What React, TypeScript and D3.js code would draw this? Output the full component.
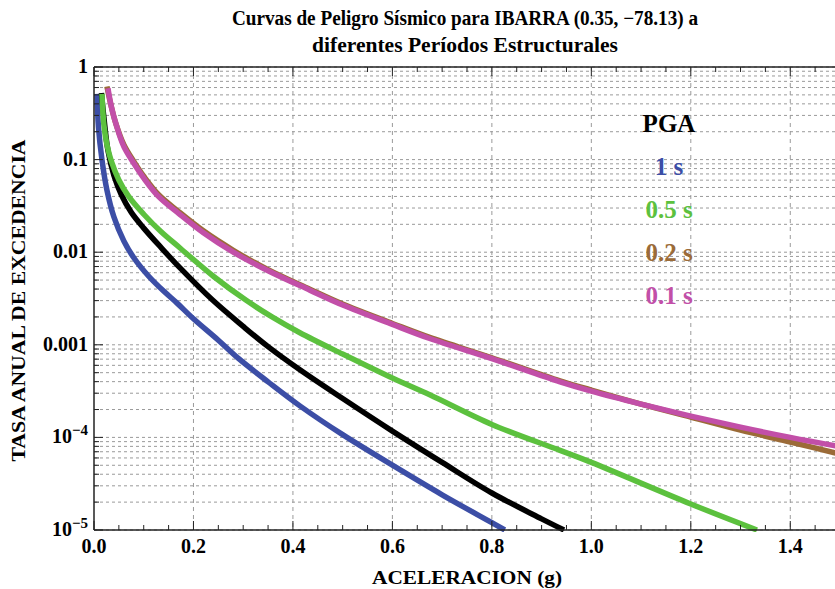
import React from "react";
import * as d3 from "d3";

const W = 835;
const H = 589;

const titleLines = [
  "Curvas de Peligro Sísmico para IBARRA (0.35, −78.13) a",
  "diferentes Períodos Estructurales",
];
const xLabel = "ACELERACION (g)";
const yLabel = "TASA ANUAL DE EXCEDENCIA";

const xTickValues = [0, 0.2, 0.4, 0.6, 0.8, 1.0, 1.2, 1.4];
const xTickLabels = ["0.0", "0.2", "0.4", "0.6", "0.8", "1.0", "1.2", "1.4"];
const yTickValues = [1, 0.1, 0.01, 0.001, 1e-4, 1e-5];
const yTickBase = ["1", "0.1", "0.01", "0.001", "10", "10"];
const yTickExp = ["", "", "", "", "−4", "−5"];

// PGA (black)
const pgaX = [0.015, 0.02, 0.028, 0.04, 0.055, 0.075, 0.1, 0.135, 0.173, 0.239, 0.3, 0.35, 0.414, 0.5, 0.6, 0.7, 0.8, 0.9, 0.945];
const pgaY = [0.525, 0.282, 0.126, 0.0676, 0.0417, 0.0269, 0.0182, 0.0112, 0.00676, 0.00302, 0.00158, 0.000955, 0.000537, 0.000263, 0.000117, 0.0000537, 0.0000251, 0.0000132, 0.00001];
// 1 s (blue)
const s1X = [0.006, 0.009, 0.016, 0.026, 0.04, 0.06, 0.08, 0.11, 0.14, 0.167, 0.2, 0.25, 0.291, 0.35, 0.414, 0.5, 0.6, 0.7, 0.8, 0.826];
const s1Y = [0.513, 0.224, 0.1, 0.0468, 0.024, 0.0132, 0.00871, 0.0055, 0.0038, 0.00282, 0.00191, 0.00112, 0.000708, 0.000398, 0.000219, 0.000107, 0.0000501, 0.000024, 0.000012, 0.00001];
// 0.5 s (green)
const s05X = [0.016, 0.02, 0.026, 0.035, 0.05, 0.07, 0.1, 0.135, 0.173, 0.24, 0.306, 0.358, 0.414, 0.5, 0.6, 0.675, 0.8, 0.937, 1.0, 1.2, 1.333];
const s05Y = [0.513, 0.234, 0.145, 0.0955, 0.0603, 0.0398, 0.0257, 0.0166, 0.0111, 0.0055, 0.00302, 0.002, 0.00135, 0.000794, 0.000437, 0.000288, 0.000138, 0.0000724, 0.0000537, 0.0000191, 0.00001];
// 0.2 s (brown)
const s02X = [0.026, 0.034, 0.044, 0.06, 0.08, 0.1, 0.13, 0.17, 0.22, 0.28, 0.35, 0.434, 0.5, 0.6, 0.675, 0.8, 0.937, 1.0, 1.1, 1.2, 1.3, 1.4, 1.5];
const s02Y = [0.617, 0.389, 0.245, 0.145, 0.0955, 0.0661, 0.0417, 0.0275, 0.017, 0.0105, 0.00646, 0.00398, 0.00275, 0.0017, 0.0012, 0.000724, 0.000407, 0.000324, 0.000229, 0.000166, 0.00012, 0.0000891, 0.0000661];
// 0.1 s (magenta)
const s01X = [0.028, 0.035, 0.045, 0.06, 0.08, 0.1, 0.13, 0.17, 0.22, 0.28, 0.35, 0.434, 0.5, 0.6, 0.675, 0.8, 0.937, 1.0, 1.1, 1.2, 1.3, 1.4, 1.5];
const s01Y = [0.589, 0.372, 0.234, 0.138, 0.0912, 0.0631, 0.0398, 0.0263, 0.0162, 0.01, 0.00631, 0.00389, 0.00269, 0.00166, 0.00117, 0.000708, 0.000398, 0.000316, 0.000229, 0.00017, 0.000129, 0.0001, 0.0000794];

const seriesNames = ["1 s", "PGA", "0.5 s", "0.2 s", "0.1 s"];
const seriesColors = ["#3c4ea6", "#000000", "#5cc13e", "#9b6b38", "#c24fa8"];
const seriesXs = [s1X, pgaX, s05X, s02X, s01X];
const seriesYs = [s1Y, pgaY, s05Y, s02Y, s01Y];

const legendOrder = ["PGA", "1 s", "0.5 s", "0.2 s", "0.1 s"];
const legendColors = ["#000000", "#3c4ea6", "#5cc13e", "#9b6b38", "#c24fa8"];

const left = 94;
const right = 840;
const top = 67;
const bottom = 530;

export default function App() {
  const x = d3.scaleLinear().domain([0, 1.5]).range([left, right]);
  const y = d3.scaleLog().domain([1e-5, 1]).range([bottom, top]);

  const line = d3
    .line<[number, number]>()
    .x((d) => x(d[0]))
    .y((d) => y(d[1]))
    .curve(d3.curveCatmullRom.alpha(0.5));

  const minorY: number[] = [];
  for (let e = -5; e < 0; e++) {
    for (let m = 1; m <= 9; m++) minorY.push(m * Math.pow(10, e));
  }
  minorY.push(1);
  const minorX = d3.range(0, 31).map((i) => i * 0.05);

  const font = "'Liberation Serif', 'Times New Roman', serif";
  const clipRight = W;

  return (
    <div style={{ position: "absolute", left: 0, top: 0 }}>
      <svg width={W} height={H} style={{ display: "block", background: "#fff" }} fontFamily={font}>
        <defs>
          <clipPath id="plotclip">
            <rect x={left} y={top - 10} width={clipRight - left} height={bottom - top + 12} />
          </clipPath>
        </defs>
        {/* title */}
        <text x={465} y={25} textAnchor="middle" fontSize={20} fontWeight="bold" textLength={466} lengthAdjust="spacingAndGlyphs">
          {titleLines[0]}
        </text>
        <text x={465} y={52} textAnchor="middle" fontSize={20} fontWeight="bold" textLength={306} lengthAdjust="spacingAndGlyphs">
          {titleLines[1]}
        </text>
        {/* grid */}
        <g stroke="#9a9a9a" strokeWidth={1}>
          {minorY.map((v, i) => (
            <line key={"gy" + i} x1={left} x2={clipRight} y1={y(v)} y2={y(v)} strokeDasharray="3,3" />
          ))}
          {xTickValues.slice(1).map((v) => (
            <line key={"gx" + v} x1={x(v)} x2={x(v)} y1={top} y2={bottom} strokeDasharray="4,4" />
          ))}
        </g>
        {/* curves */}
        <g clipPath="url(#plotclip)" fill="none" strokeWidth={5.5} strokeLinejoin="round">
          {seriesNames.map((n, i) => (
            <path
              key={n}
              d={line(seriesXs[i].map((xv, j) => [xv, seriesYs[i][j]] as [number, number])) || ""}
              stroke={seriesColors[i]}
            />
          ))}
        </g>
        {/* frame */}
        <g stroke="#222" strokeWidth={1.5}>
          <line x1={left} x2={clipRight} y1={bottom} y2={bottom} />
          <line x1={left} x2={clipRight} y1={top} y2={top} />
          <line x1={left} x2={left} y1={top} y2={bottom} />
        </g>
        {/* ticks */}
        <g stroke="#222" strokeWidth={1}>
          {minorX.map((v, i) => {
            const major = i % 4 === 0;
            const len = major ? 9 : 5;
            return (
              <g key={"tx" + i}>
                <line x1={x(v)} x2={x(v)} y1={bottom} y2={bottom - len} />
                <line x1={x(v)} x2={x(v)} y1={top} y2={top + len} />
              </g>
            );
          })}
          {minorY.map((v, i) => {
            const major = i % 9 === 0;
            const len = major ? 9 : 5;
            return <line key={"ty" + i} x1={left} x2={left + len} y1={y(v)} y2={y(v)} />;
          })}
        </g>
        {/* tick labels */}
        <g fontSize={20} fontWeight="bold">
          {xTickValues.map((v, i) => (
            <text key={"xl" + v} x={x(v)} y={553} textAnchor="middle">
              {xTickLabels[i]}
            </text>
          ))}
          {yTickValues.map((v, i) => (
            <text key={"yl" + i} x={88} y={y(v) + 6} textAnchor="end">
              {yTickBase[i]}
              {yTickExp[i] ? (
                <tspan dy={-8} fontSize={15}>
                  {yTickExp[i]}
                </tspan>
              ) : null}
            </text>
          ))}
        </g>
        {/* axis labels */}
        <text x={467} y={584} textAnchor="middle" fontSize={19} fontWeight="bold" textLength={190} lengthAdjust="spacingAndGlyphs">
          {xLabel}
        </text>
        <text
          transform={`translate(25, ${(top + bottom) / 2 + 2}) rotate(-90)`}
          textAnchor="middle"
          fontSize={19}
          fontWeight="bold"
          textLength={322}
          lengthAdjust="spacingAndGlyphs"
        >
          {yLabel}
        </text>
        {/* legend */}
        <g fontSize={25} fontWeight="bold" textAnchor="middle">
          {legendOrder.map((n, i) => (
            <text key={"lg" + n} x={669} y={132 + i * 43} fill={legendColors[i]}>
              {n}
            </text>
          ))}
        </g>
      </svg>
    </div>
  );
}
